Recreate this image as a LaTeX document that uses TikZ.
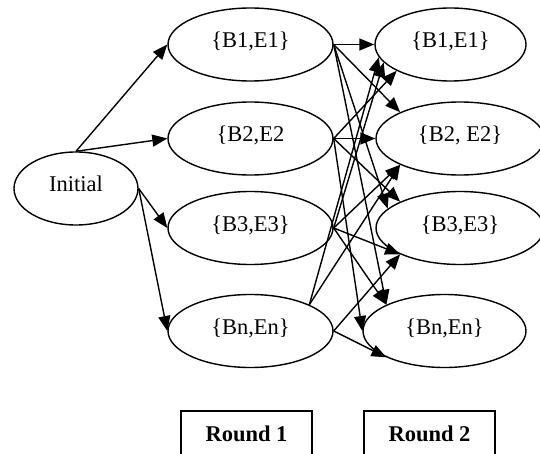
\documentclass[tikz,border=0pt]{standalone}
\usepackage{fontspec}
\setmainfont{Liberation Serif}
\usetikzlibrary{shapes.geometric,arrows.meta}

\begin{document}
\begin{tikzpicture}[x=1pt,y=-1pt,
        state/.style={ellipse, draw, line width=1.4pt, inner sep=0pt, minimum height=73pt,
            text height=16pt, text depth=10pt, font=\fontsize{22.5}{26}\selectfont},
        link/.style={-{Triangle[length=15pt,width=12pt]}, line width=1.4pt},
        roundbox/.style={draw, line width=1.6pt, minimum width=131pt, minimum height=47pt,
            text height=16pt, text depth=2pt, font=\fontsize{22.5}{26}\selectfont\bfseries}]
        \useasboundingbox (0,0) rectangle (540,454);

        % Start state
        \node[state, minimum width=124pt] (init) at (76,188.5) {Initial};

        % Round 1 states
        \node[state, minimum width=165pt] (a1) at (250.5,44.5) {\{B1,E1\}};
        \node[state, minimum width=165pt] (a2) at (250.5,138.5) {\{B2,E2};
        \node[state, minimum width=165pt] (a3) at (250.5,228) {\{B3,E3\}};
        \node[state, minimum width=165pt] (a4) at (250.5,331) {\{Bn,En\}};

        % Round 2 states
        \node[state, minimum width=151pt] (b1) at (450.5,44.5) {\{B1,E1\}};
        \node[state, minimum width=168pt] (b2) at (460,138.5) {\{B2, E2\}};
        \node[state, minimum width=168pt] (b3) at (460,228) {\{B3,E3\}};
        \node[state, minimum width=163pt] (b4) at (444.5,331) {\{Bn,En\}};

        % Labels below
        \node[roundbox] (r1box) at (246.5,434.5) {Round 1};
        \node[roundbox] (r2box) at (429.5,434.5) {Round 2};

        % Initial to round 1
        \draw[link] (init.north) -- (a1.west);
        \draw[link] (init.north) -- (a2.west);
        \draw[link] (init.east) -- (a3.west);
        \draw[link] (init.east) -- (a4.west);

        % Round 1 to round 2
        \foreach \s/\t in {a1.east/b1.west, a1.east/b2.north west, a1.east/b3.165, a1.east/b4.north west,
                a2.east/b1.south west, a2.east/b2.west, a2.east/b3.north west, a2.east/b4.west,
                a3.east/b1.195, a3.east/b2.south west, a3.east/b3.south west, a3.east/b4.north west,
                a4.north east/b1.190, a4.north east/b2.south west, a4.east/b3.south west, a4.east/b4.south west}
            \draw[link] (\s) -- (\t);

    \end{tikzpicture}
\end{document}
